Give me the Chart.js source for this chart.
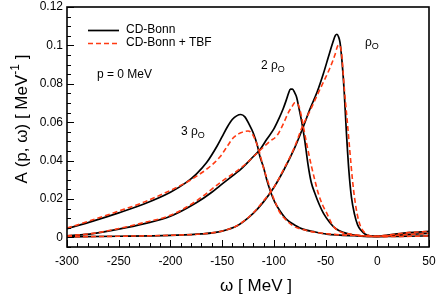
<!DOCTYPE html>
<html>
<head>
<meta charset="utf-8">
<script src="https://cdn.jsdelivr.net/npm/chart.js@4.4.1/dist/chart.umd.min.js"></script>
<style>
  html, body { margin: 0; padding: 0; background: #fff; }
  #wrap { width: 436px; height: 302px; }
</style>
</head>
<body>
<div id="wrap"><canvas id="spectralChart" width="436" height="302"></canvas></div>
<script>
// omega grid and A(p=0, omega), one pair per curve
var omegaBonn1 = [-300, -250, -200, -170, -150, -135, -120, -110, -100, -90, -80, -72, -65, -58, -52, -47, -43, -40.5, -39, -37.5, -36, -34, -32, -30, -27.5, -25, -22, -19, -16, -12, -7, 0, 10, 30, 50];
var bonnRho1 = [0.0003, 0.0006, 0.0011, 0.0018, 0.0033, 0.0062, 0.0125, 0.0185, 0.026, 0.0355, 0.0465, 0.057, 0.067, 0.076, 0.0855, 0.0945, 0.1015, 0.1052, 0.1058, 0.1045, 0.1015, 0.091, 0.076, 0.056, 0.035, 0.021, 0.012, 0.0065, 0.0038, 0.0018, 0.0008, 0.0004, 0.0005, 0.0006, 0.0008];

var omegaTbf1 = [-300, -250, -200, -170, -150, -135, -120, -110, -100, -90, -80, -73, -65, -56, -46, -41, -38.5, -37, -35.5, -34, -32.5, -31, -29.2, -26.7, -24, -21.8, -19, -16, -13.8, -9, -3, 5, 20, 35, 50];
var tbfRho1 = [0.0003, 0.0006, 0.0011, 0.0018, 0.0033, 0.0063, 0.0127, 0.019, 0.026, 0.036, 0.047, 0.057, 0.066, 0.0765, 0.088, 0.095, 0.0995, 0.1002, 0.099, 0.093, 0.082, 0.072, 0.0615, 0.046, 0.03, 0.0199, 0.011, 0.0055, 0.0035, 0.0012, 0.0005, 0.0004, 0.0005, 0.0006, 0.0008];

var omegaBonn2 = [-300, -275, -250, -225, -200, -175, -160, -152, -140, -130, -120, -113, -107, -100, -95, -91, -88, -86, -84, -82, -80, -78, -76, -73, -70, -67, -64, -60, -56, -52, -46, -40, -33, -25, -15, -5, 10, 30, 50];
var bonnRho2 = [0.0008, 0.002, 0.0043, 0.0072, 0.011, 0.018, 0.0235, 0.027, 0.032, 0.0365, 0.042, 0.046, 0.051, 0.0565, 0.062, 0.067, 0.0715, 0.0748, 0.0772, 0.0772, 0.0755, 0.073, 0.068, 0.06, 0.05, 0.038, 0.029, 0.0225, 0.017, 0.0125, 0.0078, 0.0045, 0.0026, 0.0015, 0.0008, 0.0005, 0.0008, 0.0015, 0.0021];

var omegaTbf2 = [-300, -275, -250, -225, -200, -175, -152, -130, -114, -104, -97, -91, -86, -82, -79.8, -77, -75, -73.4, -70.5, -68.5, -63.7, -60, -57.3, -53, -49.2, -42.8, -36, -25, -15, -5, 10, 30, 50];
var tbfRho2 = [0.0008, 0.0021, 0.0046, 0.0078, 0.0115, 0.019, 0.0285, 0.037, 0.045, 0.05, 0.053, 0.059, 0.065, 0.0685, 0.0701, 0.0695, 0.067, 0.0632, 0.055, 0.0494, 0.0372, 0.029, 0.0234, 0.017, 0.013, 0.006, 0.003, 0.0016, 0.0009, 0.0005, 0.0008, 0.0015, 0.0021];

var omegaBonn3 = [-300, -275, -250, -225, -200, -185, -175, -165, -155, -150, -145, -140, -136, -132, -128, -124, -120, -116, -113.6, -110, -107, -103, -99, -93, -88, -80, -72, -60, -49, -36, -20, -5, 10, 30, 50];
var bonnRho3 = [0.0046, 0.0085, 0.0128, 0.0175, 0.0235, 0.0285, 0.033, 0.039, 0.0475, 0.0525, 0.0575, 0.0615, 0.0633, 0.064, 0.0628, 0.059, 0.0545, 0.048, 0.0424, 0.0365, 0.0303, 0.0235, 0.0182, 0.013, 0.0095, 0.0065, 0.0043, 0.0028, 0.0017, 0.0012, 0.0008, 0.0005, 0.0012, 0.0025, 0.0031];

var omegaTbf3 = [-300, -275, -250, -225, -200, -185, -175, -165, -152, -145, -139, -132, -125, -121, -117, -114, -110.5, -106, -102.4, -98, -94.3, -88, -81.4, -70, -59, -45, -30, -15, -5, 10, 30, 50];
var tbfRho3 = [0.0048, 0.0092, 0.0137, 0.0185, 0.0245, 0.0285, 0.0318, 0.0355, 0.042, 0.0475, 0.052, 0.0545, 0.0554, 0.054, 0.0494, 0.0445, 0.0372, 0.0295, 0.0234, 0.0175, 0.013, 0.009, 0.006, 0.0038, 0.0026, 0.0017, 0.0012, 0.0008, 0.0005, 0.0012, 0.0025, 0.0031];

var xTicks = [-300, -250, -200, -150, -100, -50, 0, 50];
var yTicks = [0, 0.02, 0.04, 0.06, 0.08, 0.1, 0.12];
var yTickLabels = ["0", "0.02", "0.04", "0.06", "0.08", "0.1", "0.12"];

var FONT = "'Liberation Sans', Arial, Helvetica, sans-serif";
var RED = "#ff3a12";

function pts(xs, ys) {
  return xs.map(function (x, i) { return { x: x, y: ys[i] }; });
}

function curve(xs, ys, tbf) {
  return {
    data: pts(xs, ys),
    borderColor: tbf ? RED : "#000",
    borderWidth: tbf ? 1.6 : 1.7,
    borderDash: tbf ? [5, 3] : [],
    pointRadius: 0,
    fill: false,
    cubicInterpolationMode: "monotone",
    order: tbf ? 0 : 1,
  };
}

// draws a run of text pieces (for super/subscripts), starting at x
function richText(ctx, parts, x, y, align) {
  var total = 0;
  parts.forEach(function (p) {
    ctx.font = p.size + "px " + FONT;
    total += ctx.measureText(p.t).width;
  });
  var cx = align === "center" ? x - total / 2 : x;
  parts.forEach(function (p) {
    ctx.font = p.size + "px " + FONT;
    ctx.fillText(p.t, cx, y + (p.dy || 0));
    cx += ctx.measureText(p.t).width;
  });
}

var decor = {
  id: "decor",
  afterDraw: function (chart) {
    var ctx = chart.ctx;
    var a = chart.chartArea;
    var xs = chart.scales.x, ys = chart.scales.y;
    ctx.save();
    ctx.strokeStyle = "#000";
    ctx.fillStyle = "#000";

    // inward ticks
    ctx.lineWidth = 1;
    ctx.beginPath();
    for (var v = -300; v <= 50; v += 10) {
      var px = Math.round(xs.getPixelForValue(v)) + 0.5;
      var len = v % 50 === 0 ? 7 : 4;
      ctx.moveTo(px, a.bottom);
      ctx.lineTo(px, a.bottom - len);
    }
    for (var k = -1; k <= 24; k++) {
      var py = Math.round(ys.getPixelForValue(k * 0.005)) + 0.5;
      var ylen = k % 4 === 0 ? 7 : 4;
      ctx.moveTo(a.left, py);
      ctx.lineTo(a.left + ylen, py);
    }
    ctx.stroke();

    // frame
    ctx.lineWidth = 1.6;
    ctx.strokeRect(a.left, a.top, a.right - a.left, a.bottom - a.top);

    // axis titles
    ctx.textBaseline = "middle";
    richText(ctx, [{ t: "\u03c9 [ MeV ]", size: 17 }], 256, 286, "center");
    ctx.save();
    ctx.translate(22, 119);
    ctx.rotate(-Math.PI / 2);
    richText(ctx, [
      { t: "A (p, \u03c9) [ MeV", size: 17 },
      { t: "-1", size: 12, dy: -6 },
      { t: " ]", size: 17 },
    ], 0, 0, "center");
    ctx.restore();

    // legend
    ctx.lineWidth = 1.7;
    ctx.beginPath();
    ctx.moveTo(88, 30.5);
    ctx.lineTo(119, 30.5);
    ctx.stroke();
    ctx.strokeStyle = RED;
    ctx.lineWidth = 1.6;
    ctx.setLineDash([5, 3]);
    ctx.beginPath();
    ctx.moveTo(88, 43.5);
    ctx.lineTo(119, 43.5);
    ctx.stroke();
    ctx.setLineDash([]);
    richText(ctx, [{ t: "CD-Bonn", size: 12 }], 126, 30);
    richText(ctx, [{ t: "CD-Bonn + TBF", size: 12 }], 126, 43);

    // labels
    richText(ctx, [{ t: "p = 0 MeV", size: 12 }], 97, 75);
    richText(ctx, [{ t: "3 \u03c1", size: 12 }, { t: "O", size: 9, dy: 4 }], 181, 132);
    richText(ctx, [{ t: "2 \u03c1", size: 12 }, { t: "O", size: 9, dy: 4 }], 261, 66);
    richText(ctx, [{ t: "\u03c1", size: 12 }, { t: "O", size: 9, dy: 4 }], 365, 43);
    ctx.restore();
  },
};

var ctx = document.getElementById("spectralChart").getContext("2d");
var spectralChart = new Chart(ctx, {
  type: "line",
  data: {
    datasets: [
      curve(omegaBonn1, bonnRho1, false),
      curve(omegaBonn2, bonnRho2, false),
      curve(omegaBonn3, bonnRho3, false),
      curve(omegaTbf1, tbfRho1, true),
      curve(omegaTbf2, tbfRho2, true),
      curve(omegaTbf3, tbfRho3, true),
    ],
  },
  options: {
    responsive: false,
    animation: false,
    layout: { padding: { left: 0, top: 7, right: 7, bottom: 0 } },
    plugins: { legend: { display: false }, tooltip: { enabled: false } },
    scales: {
      x: {
        type: "linear",
        min: -300,
        max: 50,
        afterBuildTicks: function (s) { s.ticks = xTicks.map(function (v) { return { value: v }; }); },
        grid: { display: false, drawTicks: false },
        border: { display: false },
        ticks: { color: "#000", padding: 7, maxRotation: 0, font: { family: FONT, size: 12 } },
        afterFit: function (s) {
          s.height = 55;
          s.paddingLeft = 0;
          s.paddingRight = 0;
        },
      },
      y: {
        min: -0.005,
        max: 0.12,
        afterBuildTicks: function (s) { s.ticks = yTicks.map(function (v) { return { value: v }; }); },
        grid: { display: false, drawTicks: false },
        border: { display: false },
        ticks: {
          color: "#000",
          padding: 4,
          font: { family: FONT, size: 12 },
          callback: function (v) { return yTickLabels[yTicks.indexOf(v)]; },
        },
        afterFit: function (s) {
          s.width = 67;
          s.paddingTop = 0;
          s.paddingBottom = 0;
        },
      },
    },
  },
  plugins: [decor],
});
</script>
</body>
</html>
